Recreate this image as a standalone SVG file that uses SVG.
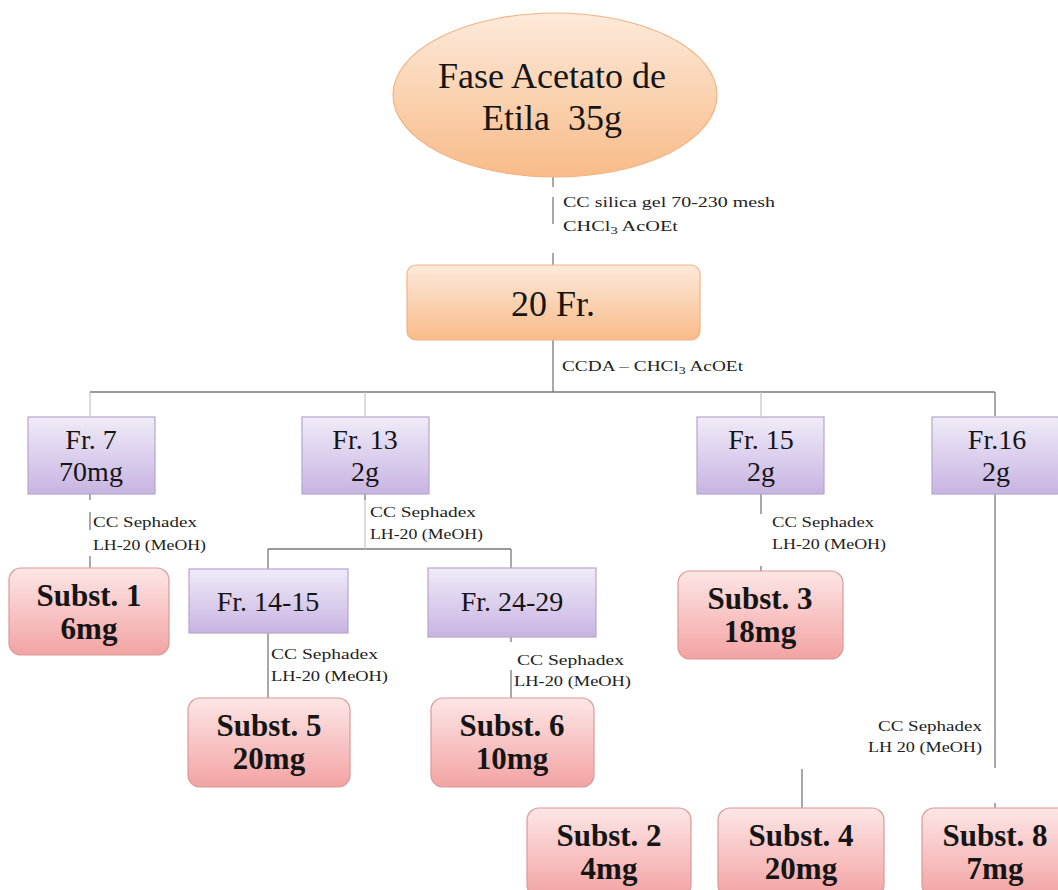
<svg xmlns="http://www.w3.org/2000/svg" width="1058" height="890" viewBox="0 0 1058 890">
<defs>
<linearGradient id="gOr" x1="0" y1="0" x2="0" y2="1"><stop offset="0" stop-color="#fdeadb"/><stop offset="1" stop-color="#f8bb88"/></linearGradient>
<linearGradient id="gPu" x1="0" y1="0" x2="0" y2="1"><stop offset="0" stop-color="#f0ebf8"/><stop offset="1" stop-color="#c7b4e2"/></linearGradient>
<linearGradient id="gPk" x1="0" y1="0" x2="0" y2="1"><stop offset="0" stop-color="#fde6e6"/><stop offset="1" stop-color="#f3a3a3"/></linearGradient>
</defs>
<style>
.or{fill:url(#gOr);stroke:#f2b384;stroke-width:1.2}
.pu{fill:url(#gPu);stroke:#b6a5cf;stroke-width:1.2}
.pk{fill:url(#gPk);stroke:#d99a98;stroke-width:1.2}
.t{font-family:"Liberation Serif","Times New Roman",serif;fill:#151515;text-anchor:middle}
.big{font-size:36px}
.fr{font-size:28px}
.sb{font-size:31px;font-weight:bold}
.lb{font-family:"Liberation Serif","Times New Roman",serif;font-size:14px;fill:#222}
.ln{stroke:#7a7a7a;stroke-width:1.3;fill:none}
.lf{stroke:#c4c4c4;stroke-width:1.2;fill:none}
</style>
<g id="connectors">
<path class="ln" d="M553 177V187M553 197V224M553 253V265"/>
<path class="ln" d="M553 340V392M90 392H995M995 392V416"/>
<path class="lf" d="M90 392V416M365 392V416M761 392V416"/>
<path class="ln" d="M90 494V500M90 512V530M90 556V568"/>
<path class="ln" d="M365 494V500M268 549H511M268 549V569M511 549V568"/>
<path class="lf" d="M365 500V549"/>
<path class="ln" d="M268 633V698"/>
<path class="ln" d="M511 637V642M511 670V698"/>
<path class="ln" d="M761 494V514M761 566V571"/>
<path class="ln" d="M995 494V768M995 803V808"/>
<path class="ln" d="M802 769V808"/>
</g>
<g id="labels">
<text class="lb" x="563" y="207" textLength="212" lengthAdjust="spacingAndGlyphs">CC silica gel 70-230 mesh</text>
<text class="lb" x="563" y="231" textLength="115" lengthAdjust="spacingAndGlyphs">CHCl<tspan font-size="10" dy="3">3</tspan><tspan dy="-3"> AcOEt</tspan></text>
<text class="lb" x="562" y="371" textLength="181" lengthAdjust="spacingAndGlyphs">CCDA – CHCl<tspan font-size="10" dy="3">3</tspan><tspan dy="-3"> AcOEt</tspan></text>
<text class="lb" x="93" y="527" textLength="104" lengthAdjust="spacingAndGlyphs">CC  Sephadex</text>
<text class="lb" x="93" y="550" textLength="113" lengthAdjust="spacingAndGlyphs">LH-20 (MeOH)</text>
<text class="lb" x="370" y="517" textLength="106" lengthAdjust="spacingAndGlyphs">CC  Sephadex</text>
<text class="lb" x="370" y="539" textLength="113" lengthAdjust="spacingAndGlyphs">LH-20 (MeOH)</text>
<text class="lb" x="772" y="527" textLength="102" lengthAdjust="spacingAndGlyphs">CC  Sephadex</text>
<text class="lb" x="772" y="549" textLength="114" lengthAdjust="spacingAndGlyphs">LH-20 (MeOH)</text>
<text class="lb" x="271" y="659" textLength="107" lengthAdjust="spacingAndGlyphs">CC  Sephadex</text>
<text class="lb" x="271" y="681" textLength="117" lengthAdjust="spacingAndGlyphs">LH-20 (MeOH)</text>
<text class="lb" x="517" y="665" textLength="107" lengthAdjust="spacingAndGlyphs">CC  Sephadex</text>
<text class="lb" x="514" y="686" textLength="117" lengthAdjust="spacingAndGlyphs">LH-20 (MeOH)</text>
<text class="lb" x="878" y="731" textLength="104" lengthAdjust="spacingAndGlyphs">CC  Sephadex</text>
<text class="lb" x="868" y="752" textLength="114" lengthAdjust="spacingAndGlyphs">LH 20 (MeOH)</text>
</g>
<g id="n-fase">
<ellipse class="or" cx="555" cy="95" rx="162" ry="82"/>
<text class="t big" x="552" y="88">Fase Acetato de</text>
<text class="t big" x="552" y="130" xml:space="preserve">Etila  35g</text>
</g>
<g id="n-20fr">
<rect class="or" x="407" y="265" width="293" height="75" rx="9"/>
<text class="t big" x="553" y="316">20 Fr.</text>
</g>
<g id="n-fr7">
<rect class="pu" x="28" y="417" width="127" height="77"/>
<text class="t fr" x="91" y="449">Fr. 7</text>
<text class="t fr" x="91" y="481">70mg</text>
</g>
<g id="n-fr13">
<rect class="pu" x="302" y="417" width="127" height="77"/>
<text class="t fr" x="365" y="449">Fr. 13</text>
<text class="t fr" x="365" y="481">2g</text>
</g>
<g id="n-fr15">
<rect class="pu" x="697" y="417" width="127" height="77"/>
<text class="t fr" x="761" y="449">Fr. 15</text>
<text class="t fr" x="761" y="481">2g</text>
</g>
<g id="n-fr16">
<rect class="pu" x="932" y="417" width="128" height="77"/>
<text class="t fr" x="997" y="449">Fr.16</text>
<text class="t fr" x="996" y="481">2g</text>
</g>
<g id="n-s1">
<rect class="pk" x="9" y="568" width="160" height="87" rx="12"/>
<text class="t sb" x="89" y="606">Subst. 1</text>
<text class="t sb" x="89" y="639">6mg</text>
</g>
<g id="n-fr1415">
<rect class="pu" x="189" y="569" width="159" height="64"/>
<text class="t fr" x="268" y="611">Fr. 14-15</text>
</g>
<g id="n-fr2429">
<rect class="pu" x="428" y="568" width="168" height="69"/>
<text class="t fr" x="512" y="611">Fr. 24-29</text>
</g>
<g id="n-s3">
<rect class="pk" x="678" y="571" width="165" height="88" rx="12"/>
<text class="t sb" x="760" y="609">Subst. 3</text>
<text class="t sb" x="760" y="642">18mg</text>
</g>
<g id="n-s5">
<rect class="pk" x="188" y="698" width="162" height="89" rx="12"/>
<text class="t sb" x="269" y="736">Subst. 5</text>
<text class="t sb" x="269" y="769">20mg</text>
</g>
<g id="n-s6">
<rect class="pk" x="431" y="698" width="163" height="89" rx="12"/>
<text class="t sb" x="512" y="736">Subst. 6</text>
<text class="t sb" x="512" y="769">10mg</text>
</g>
<g id="n-s2">
<rect class="pk" x="527" y="808" width="164" height="89" rx="12"/>
<text class="t sb" x="609" y="846">Subst. 2</text>
<text class="t sb" x="609" y="879">4mg</text>
</g>
<g id="n-s4">
<rect class="pk" x="718" y="808" width="166" height="89" rx="12"/>
<text class="t sb" x="801" y="846">Subst. 4</text>
<text class="t sb" x="801" y="879">20mg</text>
</g>
<g id="n-s8">
<rect class="pk" x="922" y="808" width="148" height="89" rx="12"/>
<text class="t sb" x="995" y="846">Subst. 8</text>
<text class="t sb" x="995" y="879">7mg</text>
</g>
</svg>
